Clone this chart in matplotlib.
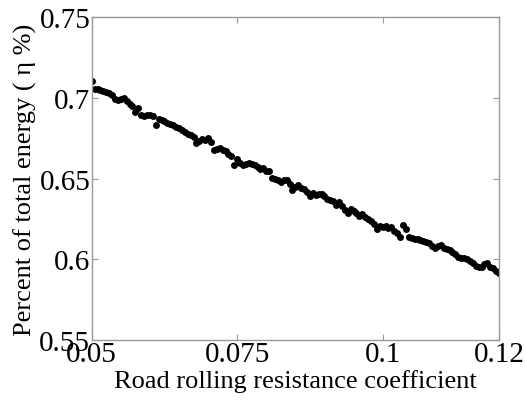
from matplotlib import pyplot as plt
import numpy as np

# Rolling resistance coefficient grid (0.05 .. 0.12, step 0.0005)
coef = np.linspace(0.05, 0.12, 141)

# Percent of total energy
eta = [
    0.7103, 0.7055, 0.7057, 0.7050, 0.7047, 0.7040, 0.7032, 0.7020, 0.6996, 0.6990,
    0.6995, 0.7000, 0.6985, 0.6965, 0.6950, 0.6912, 0.6940, 0.6895, 0.6890, 0.6893,
    0.6898, 0.6890, 0.6835, 0.6868, 0.6862, 0.6855, 0.6848, 0.6840, 0.6830, 0.6822,
    0.6815, 0.6800, 0.6790, 0.6775, 0.6770, 0.6760, 0.6722, 0.6735, 0.6745, 0.6738,
    0.6750, 0.6725, 0.6675, 0.6685, 0.6690, 0.6680, 0.6670, 0.6655, 0.6640, 0.6585,
    0.6620, 0.6600, 0.6588, 0.6590, 0.6598, 0.6593, 0.6585, 0.6575, 0.6560, 0.6565,
    0.6545, 0.6548, 0.6505, 0.6498, 0.6490, 0.6480, 0.6490, 0.6495, 0.6470, 0.6430,
    0.6448, 0.6460, 0.6445, 0.6435, 0.6420, 0.6395, 0.6410, 0.6398, 0.6405, 0.6402,
    0.6390, 0.6375, 0.6370, 0.6360, 0.6335, 0.6355, 0.6330, 0.6305, 0.6290, 0.6310,
    0.6298, 0.6285, 0.6270, 0.6280, 0.6262, 0.6250, 0.6240, 0.6218, 0.6190, 0.6205,
    0.6200, 0.6208, 0.6195, 0.6200, 0.6178, 0.6165, 0.6140, 0.6215, 0.6190, 0.6140,
    0.6130, 0.6128, 0.6125, 0.6120, 0.6112, 0.6105, 0.6098, 0.6080, 0.6072, 0.6085,
    0.6088, 0.6070, 0.6065, 0.6060, 0.6045, 0.6030, 0.6015, 0.6010, 0.6005, 0.6000,
    0.5990, 0.5975, 0.5960, 0.5950, 0.5955, 0.5968, 0.5980, 0.5955, 0.5945, 0.5930,
    0.5912,
]

xticks = [0.05, 0.075, 0.1, 0.12]
xtick_labels = ["0.05", "0.075", "0.1", "0.12"]
yticks = [0.55, 0.6, 0.65, 0.7, 0.75]
ytick_labels = ["0.55", "0.6", "0.65", "0.7", "0.75"]

plt.rcParams['font.family'] = ['Liberation Serif', 'DejaVu Serif']

fig = plt.figure(figsize=(5.25, 4.02), dpi=100)
ax = fig.add_axes([0.1747, 0.152, 0.7758, 0.802])

ax.plot(coef, eta, 'o', color='black', markersize=5, markeredgewidth=0)

ax.set_xlim(0.05, 0.12)
ax.set_ylim(0.55, 0.75)
ax.set_xticks(xticks)
ax.set_xticklabels(xtick_labels)
ax.set_yticks(yticks)
ax.set_yticklabels(ytick_labels)

ax.tick_params(direction='in', top=True, right=True, length=4,
               color='#999999', labelsize=21, pad=1)
for s in ax.spines.values():
    s.set_color('#999999')
    s.set_linewidth(1.0)

ax.set_xlabel("Road rolling resistance coefficient", fontsize=19, labelpad=1)
ax.set_ylabel("Percent of total energy ( η %)", fontsize=19, labelpad=2)

fig.savefig("out.png", dpi=100)
